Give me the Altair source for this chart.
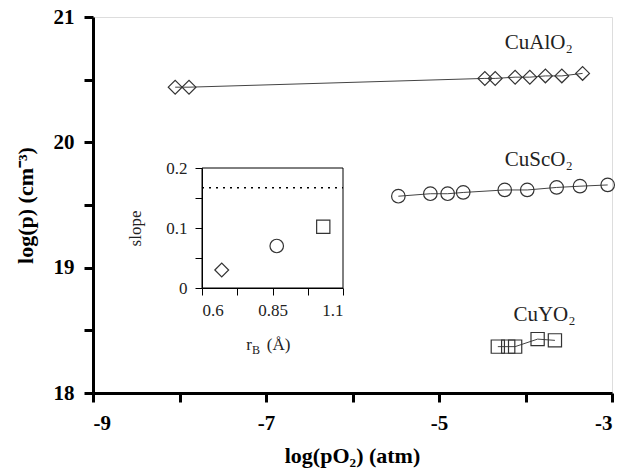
import altair as alt
import pandas as pd

# ---- main data ----
al_x = [-8.05, -7.89, -4.47, -4.35, -4.12, -3.95, -3.77, -3.58, -3.34]
al_y = [20.44, 20.44, 20.51, 20.51, 20.52, 20.52, 20.53, 20.53, 20.55]
sc_x = [-5.47, -5.10, -4.90, -4.72, -4.24, -3.98, -3.64, -3.37, -3.05]
sc_y = [19.57, 19.59, 19.59, 19.60, 19.62, 19.62, 19.64, 19.65, 19.66]
y_x = [-4.32, -4.20, -4.12, -3.86, -3.66]
y_y = [18.37, 18.37, 18.37, 18.43, 18.42]

series_names = ["CuAlO₂", "CuScO₂", "CuYO₂"]
label_x = [-4.24, -4.24, -4.14]
label_y = [20.79, 19.86, 18.62]

# ---- inset data ----
inset_r = [0.67, 0.865, 1.03]
inset_slope = [0.030, 0.070, 0.102]
inset_limit = 0.167

FONT = "Liberation Serif"

rows = []
for name, xs, ys in zip(series_names, [al_x, sc_x, y_x], [al_y, sc_y, y_y]):
    for i, (a, b) in enumerate(zip(xs, ys)):
        rows.append({"x": a, "y": b, "series": name, "order": i})
main_df = pd.DataFrame(rows)
labels_df = pd.DataFrame({"x": label_x, "y": label_y, "text": series_names})
inset_df = pd.DataFrame({"x": inset_r, "y": inset_slope, "series": series_names})
frame_df = pd.DataFrame({"x0": [0.6], "x1": [1.1], "y0": [0.0], "y1": [0.2]})
limit_df = pd.DataFrame({"x0": [0.6], "x1": [1.1], "y": [inset_limit]})
rlab_df = pd.DataFrame({"x": [0.777, 0.777, 0.830], "y": [-0.095, -0.095, -0.095],
                        "text": ["r", "B", "(Å)"], "part": ["r", "B", "u"]})

shape_scale = alt.Scale(domain=series_names, range=["diamond", "circle", "square"])
size_scale = alt.Scale(domain=series_names, range=[190, 175, 150])

# ---- main scales / axes ----
xscale = alt.Scale(domain=[-9, -3], nice=False, zero=False)
yscale = alt.Scale(domain=[18, 21], nice=False, zero=False)
xaxis = alt.Axis(
    orient="bottom", values=[-9, -8, -7, -6, -5, -4, -3],
    labelExpr="datum.value % 2 != 0 ? (datum.value < 0 ? '-' : '') + abs(datum.value) : ''",
    domainWidth=3, domainColor="black", tickWidth=3, tickSize=9, tickColor="black",
    labelFont=FONT, labelFontSize=21, labelFontWeight="bold", labelColor="black",
    labelPadding=10, grid=False,
    title="log(pO₂) (atm)", titleFont=FONT, titleFontSize=22, titleFontWeight="bold",
    titleColor="black", titleX=259, titleY=62, titleBaseline="middle", titleAlign="center",
)
yaxis = alt.Axis(
    orient="left", values=[18, 18.5, 19, 19.5, 20, 20.5, 21],
    labelExpr="datum.value % 1 == 0 ? '' + datum.value : ''",
    domainWidth=3, domainColor="black", tickWidth=3, tickSize=9, tickColor="black",
    labelFont=FONT, labelFontSize=21, labelFontWeight="bold", labelColor="black",
    labelPadding=10, grid=False,
    title="log(p) (cm⁻³)", titleFont=FONT, titleFontSize=22, titleFontWeight="bold",
    titleColor="black", titleX=-68, titleY=188, titleBaseline="middle", titleAlign="center",
    titleAngle=270,
)

def mx(field):
    return alt.X(field, type="quantitative", scale=xscale, axis=xaxis)

def my(field):
    return alt.Y(field, type="quantitative", scale=yscale, axis=yaxis)

lines = alt.Chart(main_df).mark_line(color="#444", strokeWidth=1).encode(
    x=mx("x"), y=my("y"), detail="series:N", order="order:Q"
)
points = alt.Chart(main_df).mark_point(filled=False, stroke="#333", strokeWidth=1.2, opacity=1).encode(
    x=mx("x"), y=my("y"),
    shape=alt.Shape("series:N", scale=shape_scale, legend=None),
    size=alt.Size("series:N", scale=size_scale, legend=None),
)
texts = alt.Chart(labels_df).mark_text(
    align="left", baseline="middle", font=FONT, fontSize=21, color="#222"
).encode(x=mx("x"), y=my("y"), text="text:N")

main = alt.layer(lines, points, texts)

# ---- inset scales / axes (placed inside the view by pixel ranges) ----
ixscale = alt.Scale(domain=[0.6, 1.1], range=[109, 250], nice=False, zero=False)
iyscale = alt.Scale(domain=[0, 0.2], range=[271, 151], nice=False, zero=False)
ixaxis = alt.Axis(
    orient="bottom", offset=-105, values=[0.6, 0.725, 0.85, 0.975, 1.1],
    labelExpr="round((datum.value - 0.6) / 0.125) % 2 == 0 ? '' + datum.value : ''",
    domainColor="black", domainWidth=1, tickColor="black", tickWidth=1, tickSize=7,
    labelFont=FONT, labelFontSize=17, labelColor="#222", labelPadding=7, grid=False,
    title="",
)
iyaxis = alt.Axis(
    orient="left", offset=-109, values=[0, 0.05, 0.1, 0.15, 0.2],
    labelExpr="round(datum.value * 20) % 2 == 0 ? '' + datum.value : ''",
    domainColor="black", domainWidth=1, tickColor="black", tickWidth=1, tickSize=7,
    labelFont=FONT, labelFontSize=17, labelColor="#222", labelPadding=8, grid=False,
    title="slope", titleFont=FONT, titleFontSize=17, titleFontWeight="normal",
    titleColor="#222", titleX=-67, titleY=211, titleBaseline="middle", titleAlign="center",
    titleAngle=270,
)

def ix(field):
    return alt.X(field, type="quantitative", scale=ixscale, axis=ixaxis)

def iy(field):
    return alt.Y(field, type="quantitative", scale=iyscale, axis=iyaxis)

frame = alt.Chart(frame_df).mark_rect(fillOpacity=0, stroke="black", strokeWidth=1).encode(
    x=ix("x0"), x2="x1:Q", y=iy("y0"), y2="y1:Q"
)
limit = alt.Chart(limit_df).mark_rule(color="black", strokeWidth=1.6, strokeDash=[2, 5]).encode(
    x=ix("x0"), x2="x1:Q", y=iy("y")
)
ipoints = alt.Chart(inset_df).mark_point(filled=False, stroke="#333", strokeWidth=1.2, opacity=1).encode(
    x=ix("x"), y=iy("y"),
    shape=alt.Shape("series:N", scale=shape_scale, legend=None),
    size=alt.Size("series:N", scale=size_scale, legend=None),
)
r_main = alt.Chart(rlab_df).transform_filter("datum.part == 'r'").mark_text(
    align="right", baseline="middle", font=FONT, fontSize=17, color="#222"
).encode(x=ix("x"), y=iy("y"), text="text:N")
r_sub = alt.Chart(rlab_df).transform_filter("datum.part == 'B'").mark_text(
    align="left", baseline="middle", font=FONT, fontSize=12, color="#222", dy=5
).encode(x=ix("x"), y=iy("y"), text="text:N")
r_unit = alt.Chart(rlab_df).transform_filter("datum.part == 'u'").mark_text(
    align="left", baseline="middle", font=FONT, fontSize=17, color="#222"
).encode(x=ix("x"), y=iy("y"), text="text:N")

inset = alt.layer(frame, limit, ipoints, r_main, r_sub, r_unit)

chart = alt.layer(main, inset).resolve_scale(x="independent", y="independent").properties(
    width=519, height=376,
    padding={"left": 93, "top": 17, "right": 11, "bottom": 75},
    autosize=alt.AutoSizeParams(type="none"),
).configure_view(strokeWidth=0).configure(background="white")

chart.save("out.html", embed_options={"renderer": "svg", "actions": False})
